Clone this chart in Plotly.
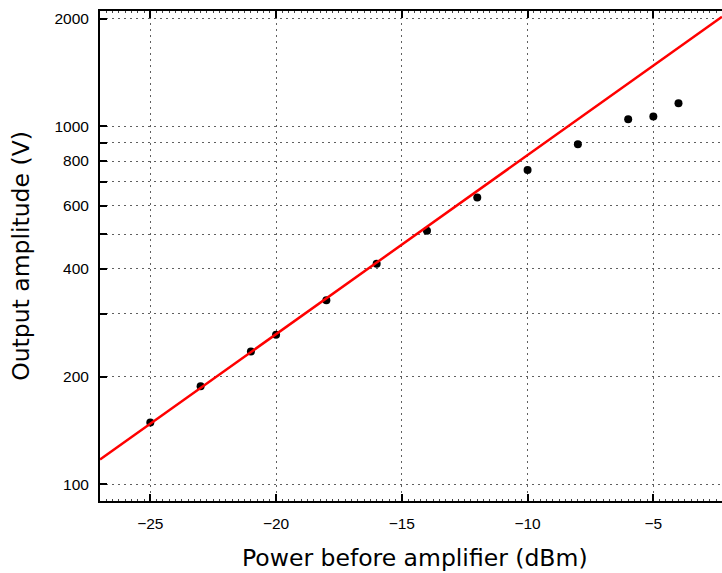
import numpy as np
import plotly.graph_objects as go

# ---- data ----
power_dbm = [-25, -23, -21, -20, -18, -16, -14, -12, -10, -8, -6, -5, -4]
amplitude_v = [149, 188, 235, 262, 327, 413, 511, 633, 755, 891, 1046, 1066, 1159]

# linear-gain fit: V = gain * 10^(P/20)
fit_gain_v = 2628.0
fit_db_per_decade = 20.0

x_range = [-27.0, -2.27]
y_range_log = [np.log10(89.9), np.log10(2099)]

y_tick_vals = [100, 200, 300, 400, 500, 600, 700, 800, 900, 1000, 2000]
y_tick_text = ["100", "200", "", "400", "", "600", "", "800", "", "1000", "2000"]
x_tick_vals = [-25, -20, -15, -10, -5]

fit_x = np.linspace(x_range[0], x_range[1], 200)
fit_y = fit_gain_v * 10 ** (fit_x / fit_db_per_decade)

fig = go.Figure()
fig.add_trace(go.Scatter(x=fit_x, y=fit_y, mode="lines",
                         line=dict(color="#ff0000", width=2.5),
                         showlegend=False, hoverinfo="skip", xaxis="x2"))
fig.add_trace(go.Scatter(x=power_dbm, y=amplitude_v, mode="markers",
                         marker=dict(color="black", size=8),
                         showlegend=False))

tick_font = dict(family="Liberation Sans, Arial, sans-serif", size=15.5, color="black")
title_font = dict(family="DejaVu Sans, sans-serif", size=23.5, color="black")
grid = dict(showgrid=True, gridcolor="#606060", griddash="1.5px,4.5px", gridwidth=1)
minor_x = dict(dtick=0.25, ticks="inside", ticklen=2, tickwidth=1,
               tickcolor="#444444", showgrid=False)

fig.update_layout(
    width=722, height=573,
    margin=dict(l=100, r=0, t=11, b=72),
    plot_bgcolor="white", paper_bgcolor="white",
    xaxis=dict(range=x_range, tickvals=x_tick_vals, ticks="inside", ticklen=7,
               tickcolor="black", tickwidth=1.5,
               showline=True, linecolor="black", linewidth=2,
               zeroline=False, tickfont=tick_font, ticklabelstandoff=7,
               minor=minor_x, **grid),
    xaxis2=dict(range=x_range, overlaying="x", side="top", anchor="y",
                tickvals=x_tick_vals, ticks="inside", ticklen=7, tickcolor="black",
                tickwidth=1.5, showticklabels=False,
                showline=True, linecolor="black", linewidth=2,
                showgrid=False, zeroline=False, minor=minor_x),
    yaxis=dict(type="log", range=y_range_log, tickvals=y_tick_vals, ticktext=y_tick_text,
               ticks="inside", ticklen=7, tickcolor="black", tickwidth=1.5,
               showline=True, linecolor="black", linewidth=2,
               zeroline=False, tickfont=tick_font, ticklabelstandoff=6,
               title=dict(text="Output amplitude (V)", font=title_font, standoff=18),
               **grid),
    annotations=[dict(text="Power before amplifier (dBm)", font=title_font,
                      xref="paper", yref="paper", x=0.507, y=-0.116,
                      xanchor="center", yanchor="middle", showarrow=False,
                      borderpad=0)],
)

fig.write_html("out.html")
